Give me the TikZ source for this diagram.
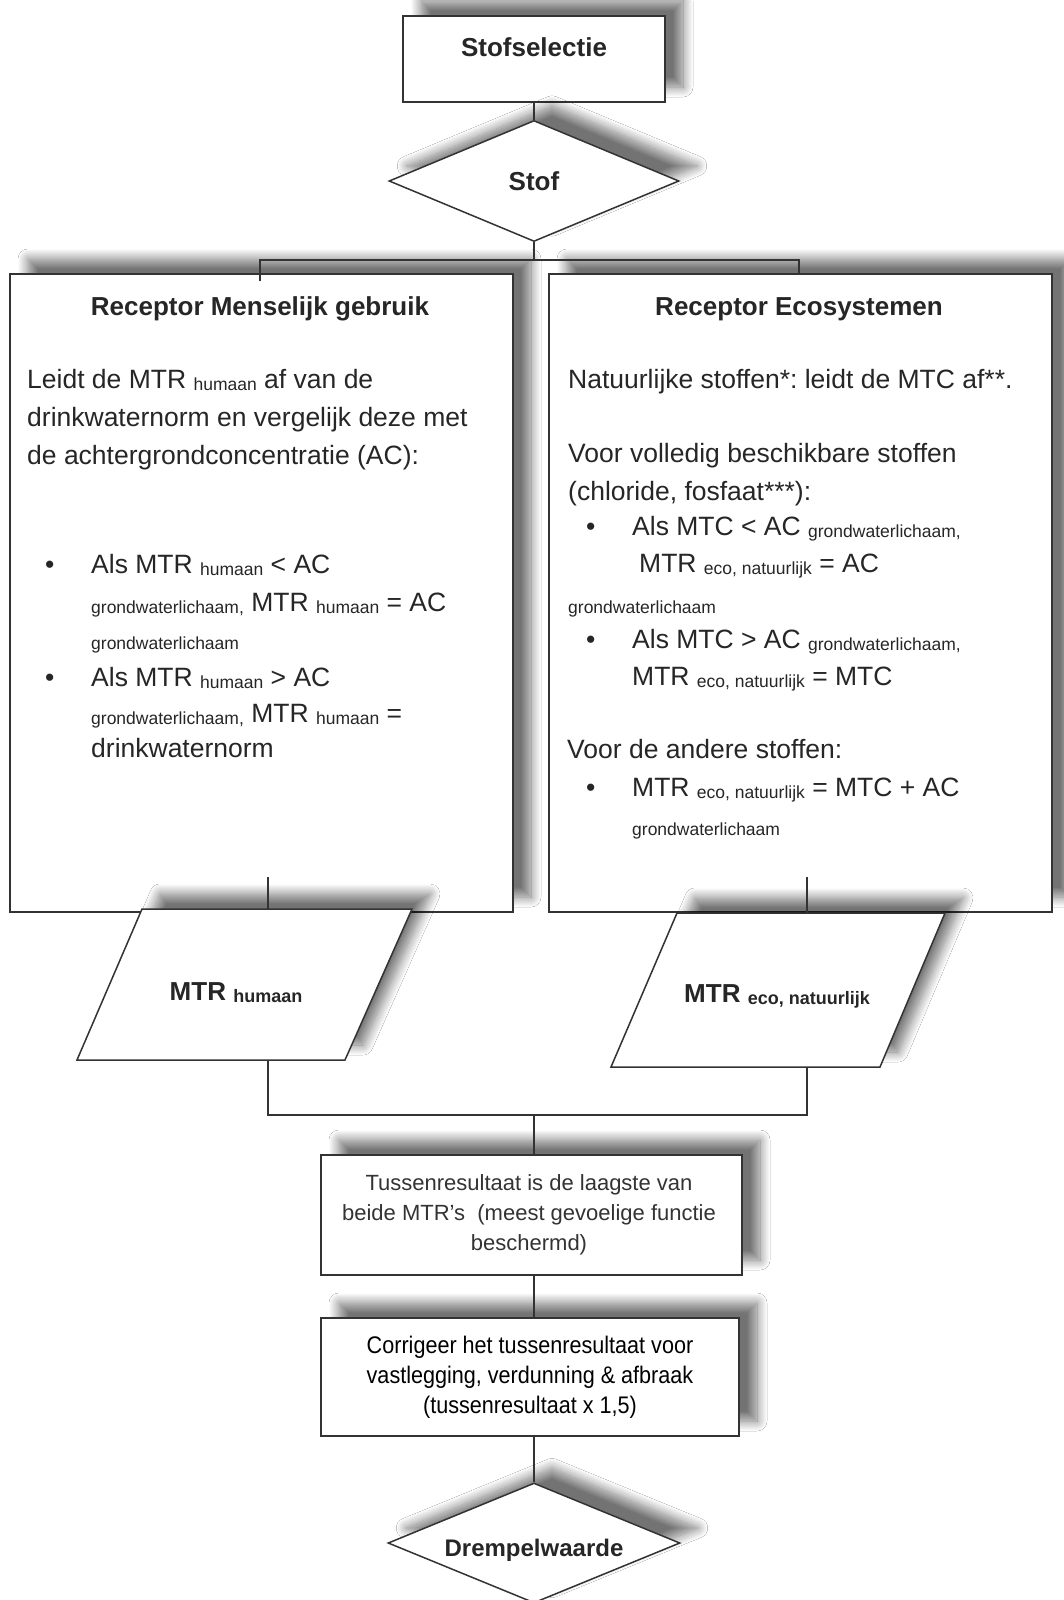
\documentclass[tikz,border=0pt]{standalone}
\usepackage{fontspec}
\setmainfont{Liberation Sans}
\newfontfamily\narrowfont{Liberation Sans}[FakeStretch=0.9]
\usetikzlibrary{shapes.geometric,shadows.blur}
\frenchspacing
\newcommand\mybody{\fontsize{26.5}{30}\selectfont}
\newcommand\mysmall{\fontsize{17.5}{20}\selectfont}
\newcommand\mysb[1]{\raisebox{-2.5pt}{\mysmall #1}}
\newcommand\myhead{\bfseries\fontsize{26}{30}\selectfont}
\newcommand\mybsb[1]{\raisebox{-2.5pt}{\bfseries\fontsize{18}{20}\selectfont #1}}
\tikzset{
  shad/.style={blur shadow={shadow xshift=18pt, shadow yshift=15pt, shadow blur radius=10pt, shadow blur steps=14, shadow opacity=55}},
  box/.style={draw=black!80, line width=1.5pt, fill=white, shad, inner sep=0pt},
  conn/.style={draw=black!80, line width=1.5pt},
  txt/.style={anchor=base west, inner sep=0pt, text=black!85, font=\mybody},
  stxt/.style={anchor=base west, inner sep=0pt, text=black!85, font=\mysmall},
  htxt/.style={anchor=base, inner sep=0pt, text=black!85, font=\myhead},
}
\begin{document}
\begin{tikzpicture}[x=1pt,y=-1pt]
\useasboundingbox (0,0) rectangle (1064,1600);
\fill[white] (0,0) rectangle (1064,1600);

% top
\node[box, minimum width=262pt, minimum height=86pt] (sel) at (534,59) {};
\node[htxt] (selt) at (534,57) {Stofselectie};
\node[box, diamond, minimum width=290pt, minimum height=121pt] (stof) at (534,181) {};
\node[htxt] (stoft) at (534,190) {Stof};

% receptor boxes
\node[box, minimum width=503pt, minimum height=638pt] (rec1) at (261.5,593) {};
\node[box, minimum width=503pt, minimum height=638pt] (rec2) at (800.5,593) {};

\node[htxt] (h1) at (260,315) {Receptor Menselijk gebruik};
\node[htxt] (h2) at (799,315) {Receptor Ecosystemen};

% left text
\node[txt] (l1) at (27,388) {Leidt de MTR \mysb{humaan} af van de};
\node[txt] (l2) at (27,426) {drinkwaternorm en vergelijk deze met};
\node[txt] (l3) at (27,464) {de achtergrondconcentratie (AC):};
\node[txt] (lb1) at (45,573) {•};
\node[txt] (l4) at (91,573) {Als MTR \mysb{humaan} < AC};
\node[txt] (l5) at (91,611) {\mysb{grondwaterlichaam,} MTR \mysb{humaan} = AC};
\node[stxt] (l6) at (91,649) {grondwaterlichaam};
\node[txt] (lb2) at (45,686) {•};
\node[txt] (l7) at (91,686) {Als MTR \mysb{humaan} > AC};
\node[txt] (l8) at (91,722) {\mysb{grondwaterlichaam,} MTR \mysb{humaan} =};
\node[txt] (l9) at (91,757) {drinkwaternorm};

% right text
\node[txt] (r1) at (568,388) {Natuurlijke stoffen*: leidt de MTC af**.};
\node[txt] (r2) at (568,462) {Voor volledig beschikbare stoffen};
\node[txt] (r3) at (568,500) {(chloride, fosfaat***):};
\node[txt] (rb1) at (586,535) {•};
\node[txt] (r4) at (632,535) {Als MTC < AC \mysb{grondwaterlichaam,}};
\node[txt] (r5) at (639,572) {MTR \mysb{eco, natuurlijk} = AC};
\node[stxt] (r6) at (568,613) {grondwaterlichaam};
\node[txt] (rb2) at (586,648) {•};
\node[txt] (r7) at (632,648) {Als MTC > AC \mysb{grondwaterlichaam,}};
\node[txt] (r8) at (632,685) {MTR \mysb{eco, natuurlijk} = MTC};
\node[txt] (r9) at (567,758) {Voor de andere stoffen:};
\node[txt] (rb3) at (586,796) {•};
\node[txt] (r10) at (632,796) {MTR \mysb{eco, natuurlijk} = MTC + AC};
\node[stxt] (r11) at (632,835) {grondwaterlichaam};

% parallelograms
\path[box] (142,909) -- (412,909) -- (345,1060) -- (77,1060) -- cycle;
\node[htxt] (p1) at (236,1000) {MTR \mybsb{humaan}};
\path[box] (677,913) -- (945,913) -- (880,1067) -- (611,1067) -- cycle;
\node[htxt] (p2) at (777,1002) {MTR \mybsb{eco, natuurlijk}};

% lower boxes
\node[box, minimum width=421pt, minimum height=120pt] (tus) at (531.5,1215) {};
\begin{scope}[every node/.style={anchor=base, inner sep=0pt, text=black!80, font=\fontsize{22}{26}\selectfont}]
\node (t1) at (529,1190) {Tussenresultaat is de laagste van};
\node (t2) at (529,1220) {beide MTR's \ (meest gevoelige functie};
\node (t3) at (529,1250) {beschermd)};
\end{scope}
\node[box, minimum width=418pt, minimum height=118pt] (cor) at (530,1377) {};
\begin{scope}[every node/.style={anchor=base, inner sep=0pt, text=black, font=\narrowfont\fontsize{24}{28}\selectfont}]
\node (c1) at (530,1353) {Corrigeer het tussenresultaat voor};
\node (c2) at (530,1383) {vastlegging, verdunning \& afbraak};
\node (c3) at (530,1413) {(tussenresultaat x 1,5)};
\end{scope}
\node[box, diamond, minimum width=292pt, minimum height=120pt] (drem) at (534,1543) {};
\node[htxt, font=\bfseries\fontsize{24}{28}\selectfont] (dremt) at (534,1556) {Drempelwaarde};

% connectors
\coordinate (j1) at (534,260);
\coordinate (r1top) at (260,281);
\coordinate (r2top) at (799,274);
\coordinate (r1out) at (268,877);
\coordinate (p1top) at (268,909);
\coordinate (p1bot) at (268,1060);
\coordinate (r2out) at (807,877);
\coordinate (p2top) at (807,913);
\coordinate (p2bot) at (807,1067);
\coordinate (j2) at (534,1115);
\draw[conn] (sel.south) -- (stof.north);
\draw[conn] (stof.south) -- (j1);
\draw[conn] (r1top) |- (j1) -| (r2top);
\draw[conn] (r1out) -- (p1top);
\draw[conn] (r2out) -- (p2top);
\draw[conn] (p1bot) |- (j2) -| (p2bot);
\draw[conn] (j2) -- (j2 |- tus.north);
\draw[conn] (tus.south -| j2) -- (cor.north -| j2);
\draw[conn] (cor.south -| j2) -- (drem.north);
\end{tikzpicture}
\end{document}
